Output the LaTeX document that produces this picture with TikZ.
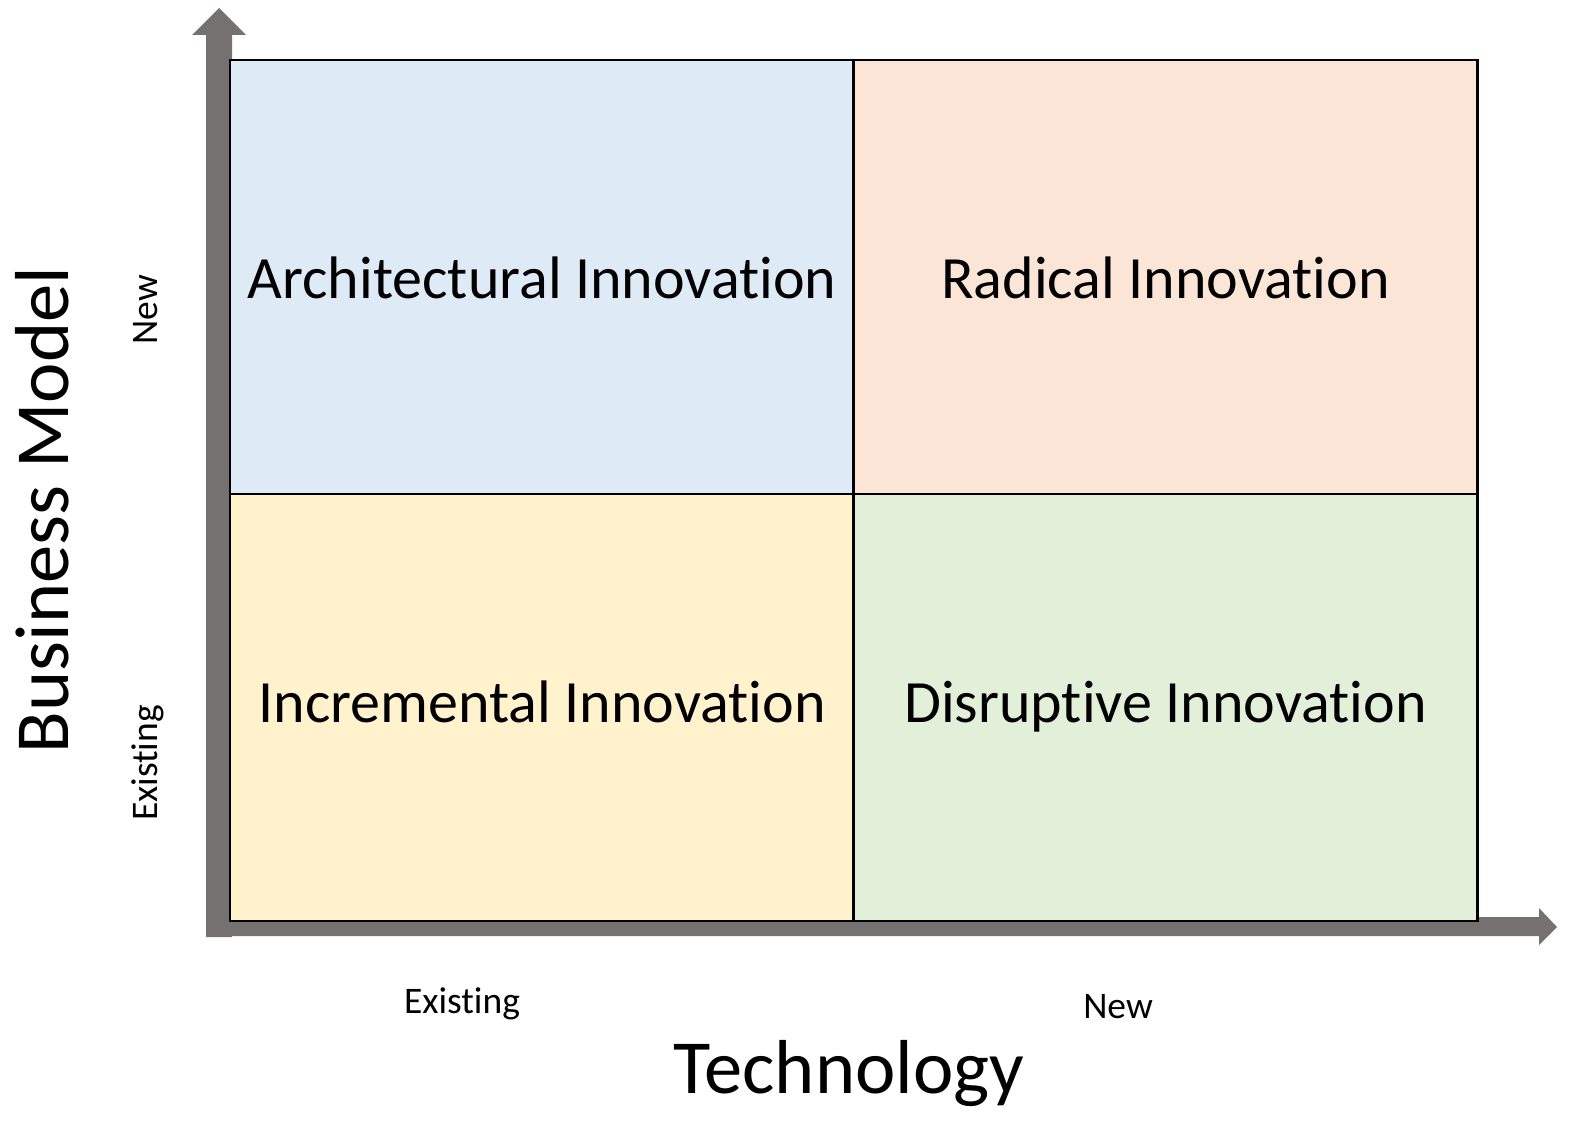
\documentclass[tikz,border=0pt]{standalone}
\usepackage{fontspec}
\setmainfont{Carlito}[RawFeature={-liga;-clig;-dlig;-rlig}]
\newcommand\nolig{\kern0pt{}}
\definecolor{axisgray}{HTML}{767171}
\definecolor{cellblue}{HTML}{DEEBF7}
\definecolor{cellorange}{HTML}{FBE5D6}
\definecolor{cellyellow}{HTML}{FFF2CC}
\definecolor{cellgreen}{HTML}{E2F0D9}
\tikzset{
  cell/.style={draw=black, line width=2.6pt, inner sep=0pt, minimum width=624pt, minimum height=#1},
  celltext/.style={inner sep=0pt, anchor=base, font=\fontsize{60}{72}\selectfont},
  ticklabel/.style={inner sep=0pt, font=\fontsize{37.5}{45}\selectfont},
  axistitle/.style={inner sep=0pt, font=\fontsize{76.5}{90}\selectfont},
}
\begin{document}
\begin{tikzpicture}[x=1pt,y=-1pt]
\useasboundingbox (0,0) rectangle (1588,1132);
% vertical axis arrow
\fill[axisgray] (206,937) -- (206,35) -- (192,35) -- (219,8) -- (246,35) -- (232,35) -- (232,937) -- cycle;
% horizontal axis arrow
\fill[axisgray] (206,917) -- (1539,917) -- (1539,908) -- (1557,927) -- (1539,945) -- (1539,936) -- (206,936) -- cycle;
% cells
\node[cell=434pt, fill=cellblue] (arch) at (542,277) {};
\node[cell=434pt, fill=cellorange] (rad) at (1165.5,277) {};
\node[cell=427pt, fill=cellyellow] (inc) at (542,707.5) {};
\node[cell=427pt, fill=cellgreen] (dis) at (1165.5,707.5) {};
\node[celltext] (archt) at (542,298) {Architectural Innovat\nolig ion};
\node[celltext] (radt) at (1165.5,298) {Radical Innovat\nolig ion};
\node[celltext] (inct) at (542,722.5) {Incremental Innovat\nolig ion};
\node[celltext] (dist) at (1165.5,722.5) {Disrupt\nolig ive Innovat\nolig ion};
% tick labels
\node[ticklabel, anchor=base] (xexist) at (462,1013) {Existing};
\node[ticklabel, anchor=base] (xnew) at (1118,1018) {New};
\node[ticklabel, anchor=base, rotate=90] (ynew) at (157,310) {New};
\node[ticklabel, anchor=base, rotate=90] (yexist) at (157,763) {Existing};
% axis titles
\node[axistitle, anchor=base] (xtitle) at (849,1093) {Technology};
\node[axistitle, anchor=base, rotate=90] (ytitle) at (68,510) {Business Model};
\end{tikzpicture}
\end{document}
